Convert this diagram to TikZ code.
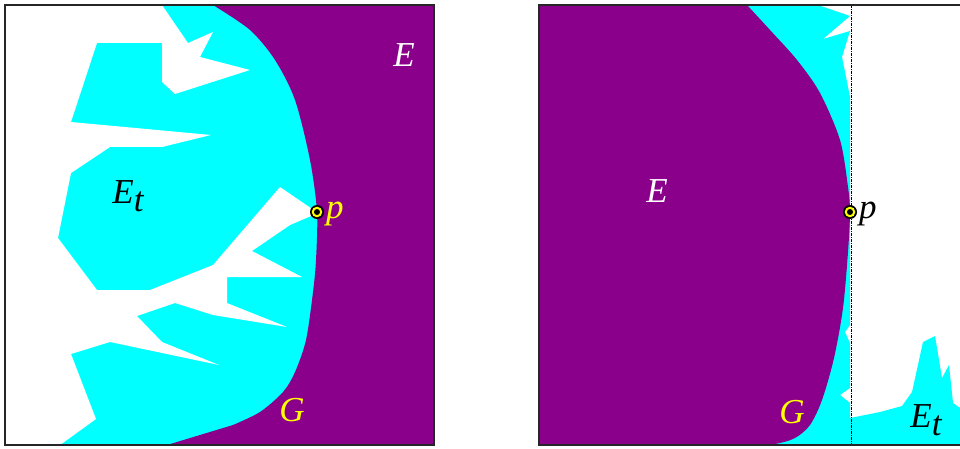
\documentclass[tikz,border=0pt]{standalone}
\usepackage{fontspec}
\setmainfont{Liberation Serif}
\usepackage{xcolor}
\usepackage{tikz}
\definecolor{setE}{RGB}{139,0,139}
\definecolor{setEt}{RGB}{0,255,255}
\definecolor{markG}{RGB}{255,255,0}
\tikzset{
  frame/.style={line width=1.5pt,black!85},
  cut/.style={line width=0.6pt,dash pattern=on 3pt off 1pt on 1pt off 1pt},
  lbl/.style={inner sep=0pt,font=\fontsize{35}{38}\selectfont\itshape},
}
\newcommand{\subt}{\raisebox{-8pt}{t}}

\begin{document}
\begin{tikzpicture}[x=1pt,y=-1pt]
  \useasboundingbox (0,0) rectangle (960,449);
  \clip (0,0) rectangle (960,449);
  % left panel: E_t grows from the left, E on the right
  \fill[setEt] (5,5) rectangle (434,445);
  \fill[white] (5,5)--(162,5)--(188,43)--(213,32)--(200,57)--(250,70)--(175,94)--(162,82)
    --(162,43)--(97,43)--(71,122)--(211,135)--(162,147)--(110,147)--(71,173)--(58,238)
    --(97,290)--(150,290)--(213,265)--(280,187)--(318,213)--(290,225)--(252,251)--(302,277)
    --(227,277)--(227,303)--(287,327)--(213,315)--(175,303)--(137,316)--(162,342)--(219,365)
    --(110,342)--(71,354)--(96,419)--(60,445)--(5,445)--cycle;
  \fill[setE] plot[smooth] coordinates {(213,5) (250,30) (275,60) (295,100) (310,160) (317,212)
    (316,260) (313,292) (306,340) (295,372) (283,392) (260,412) (233,425)}
    --(167,445)--(434,445)--(434,5)--cycle;
  \draw[frame] (5,5) rectangle (434,445);
  % right panel
  \fill[setEt] (747,5)--(818,5)--(850,16)--(823,39)--(850,31)--(842,57)--(850,97)--(850,325)
    --(845,332)--(850,343)--(850,388)--(840,395)--(850,403)--(850,418)--(880,412)--(902,406)
    --(912,392)--(923,342)--(935,336)--(942,378)--(949,365)--(953,403)--(960,408)--(960,445)
    --(750,445)--cycle;
  \fill[setE] plot[smooth] coordinates {(747,5) (770,30) (797,60) (820,93) (840,140) (848,187)
    (850,212) (848,252) (843,308) (834,358) (822,400) (810,425) (795,438) (775,444) (750,445)}
    --(539,445)--(539,5)--cycle;
  \draw[cut] (851,5)--(851,445);
  \draw[frame] (539,5) rectangle (975,445);
  % the point p
  \coordinate (pleft) at (317,212);
  \coordinate (pright) at (850,212);
  \foreach \c in {pleft,pright}{
    \fill (\c) circle (7pt);
    \fill[markG] (\c) circle (5.3pt);
    \fill (\c) circle (3pt);
  }
  % labels
  \node[lbl,text=white] (leftE) at (404,55) {E};
  \node[lbl] (leftEt) at (128,196) {E\subt};
  \node[lbl,text=markG,anchor=west] (leftp) at (326,214) {p};
  \node[lbl,text=markG] (leftG) at (292,410) {G};
  \node[lbl,text=white] (rightE) at (657,191) {E};
  \node[lbl,anchor=west] (rightp) at (859,214) {p};
  \node[lbl,text=markG] (rightG) at (792,412) {G};
  \node[lbl] (rightEt) at (926,420) {E\subt};
\end{tikzpicture}
\end{document}
